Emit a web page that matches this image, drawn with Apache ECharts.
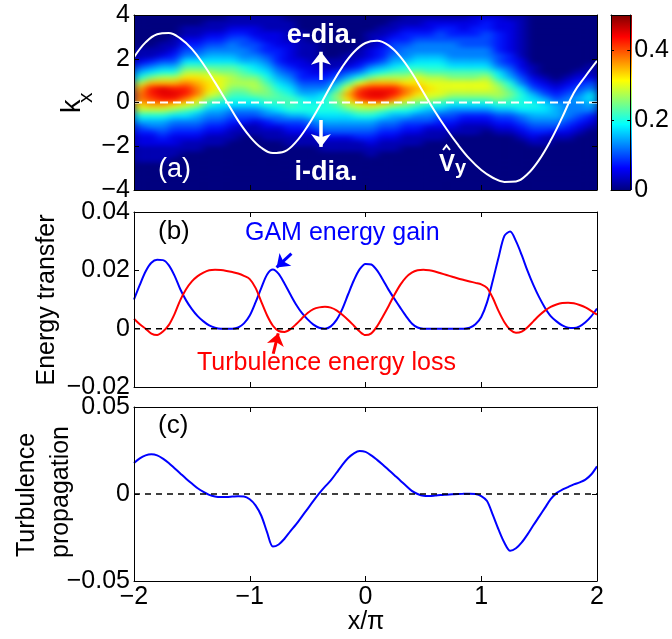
<!DOCTYPE html>
<html>
<head>
<meta charset="utf-8">
<script src="https://cdn.jsdelivr.net/npm/echarts@6/dist/echarts.min.js"></script>
<style>
  html, body { margin: 0; padding: 0; background: #fff; }
  #wrap { position: relative; width: 672px; height: 639px; }
  #specBox { position: absolute; left: 134px; top: 15px; width: 463px; height: 175px;
             overflow: hidden; background: #00007f; }
  #spec { width: 463px; height: 175px; filter: url(#soft); }
  #chart { position: absolute; left: 0; top: 0; width: 672px; height: 639px; }
</style>
</head>
<body>
<!-- smoothing for the coarse spectrum grid (contour-like shading) -->
<svg width="0" height="0" style="position:absolute">
  <filter id="soft" x="0" y="0" width="1" height="1" color-interpolation-filters="sRGB">
    <feGaussianBlur stdDeviation="5 2.5" edgeMode="duplicate"/>
  </filter>
</svg>
<div id="wrap">
  <div id="specBox"><div id="spec"></div></div>
  <div id="chart"></div>
</div>
<script>
// ---- data ---------------------------------------------------------------
// Coarse x/pi positions for the white velocity curve.
const xsCoarse = [-2.0,-1.9,-1.8,-1.7,-1.6,-1.5,-1.4,-1.3,-1.2,-1.1,-1.0,-0.9,-0.8,-0.7,-0.6,-0.5,-0.4,-0.3,-0.2,-0.1,
                  0.0,0.1,0.2,0.3,0.4,0.5,0.6,0.7,0.8,0.9,1.0,1.1,1.2,1.3,1.4,1.5,1.6,1.7,1.8,1.9,2.0];

// Panel (a): normalised GAM velocity profile (white curve), in k_x units.
const vyHat = [2.07,2.75,3.12,3.18,2.93,2.45,1.75,0.92,0.05,-0.83,-1.55,-2.07,-2.31,-2.24,-1.80,-1.08,-0.19,0.76,1.63,2.31,
               2.72,2.82,2.61,2.10,1.36,0.47,-0.41,-1.21,-1.94,-2.58,-3.09,-3.44,-3.63,-3.61,-3.27,-2.62,-1.73,-0.67,0.45,1.20,1.90];

// Fine x/pi positions for panels (b) and (c).
const xsFine = [-2.00,-1.95,-1.90,-1.85,-1.80,-1.75,-1.70,-1.65,-1.60,-1.55,-1.50,-1.45,-1.40,-1.35,-1.30,-1.25,-1.20,-1.15,-1.10,-1.05,
                -1.00,-0.95,-0.90,-0.85,-0.80,-0.75,-0.70,-0.65,-0.60,-0.55,-0.50,-0.45,-0.40,-0.35,-0.30,-0.25,-0.20,-0.15,-0.10,-0.05,
                0.00,0.05,0.10,0.15,0.20,0.25,0.30,0.35,0.40,0.45,0.50,0.55,0.60,0.65,0.70,0.75,0.80,0.85,0.90,0.95,
                1.00,1.05,1.10,1.15,1.20,1.25,1.30,1.35,1.40,1.45,1.50,1.55,1.60,1.65,1.70,1.75,1.80,1.85,1.90,1.95,2.00];

// Panel (b): energy transfer terms.
const gamGain = [
  0.0100,0.0150,0.0196,0.0226,0.0236,0.0235,0.0218,0.0182,0.0135,0.0097,0.0067,0.0043,0.0025,0.0011,0.0003,0.0000,0.0000,0.0000,0.0004,0.0018,
  0.0045,0.0090,0.0140,0.0186,0.0203,0.0188,0.0155,0.0118,0.0083,0.0054,0.0032,0.0014,0.0003,0.0000,0.0008,0.0030,0.0068,0.0118,0.0166,0.0204,
  0.0222,0.0220,0.0200,0.0168,0.0133,0.0102,0.0072,0.0043,0.0018,0.0004,0.0000,0.0000,0.0000,0.0000,0.0000,0.0000,0.0000,0.0000,0.0003,0.0015,
  0.0040,0.0090,0.0165,0.0245,0.0318,0.0333,0.0300,0.0252,0.0198,0.0150,0.0108,0.0072,0.0043,0.0025,0.0011,0.0003,0.0002,0.0008,0.0022,0.0042,0.0069];
const turbLoss = [
  0.0034,0.0015,0.0000,-0.0017,-0.0022,-0.0010,0.0012,0.0050,0.0098,0.0135,0.0162,0.0180,0.0192,0.0200,0.0202,0.0201,0.0198,0.0194,0.0189,0.0181,
  0.0170,0.0140,0.0092,0.0045,0.0010,-0.0008,-0.0011,-0.0002,0.0015,0.0035,0.0054,0.0067,0.0073,0.0075,0.0072,0.0063,0.0048,0.0030,0.0010,-0.0010,
  -0.0022,-0.0016,0.0008,0.0042,0.0078,0.0116,0.0150,0.0176,0.0192,0.0200,0.0202,0.0200,0.0196,0.0190,0.0184,0.0178,0.0172,0.0167,0.0162,0.0157,
  0.0152,0.0140,0.0105,0.0060,0.0022,-0.0004,-0.0014,-0.0010,0.0005,0.0025,0.0045,0.0062,0.0075,0.0083,0.0088,0.0089,0.0087,0.0081,0.0073,0.0061,0.0048];

// Panel (c): turbulence propagation.
const turbProp = [
  0.0178,0.0205,0.0222,0.0228,0.0222,0.0203,0.0178,0.0148,0.0118,0.0088,0.0060,0.0033,0.0012,-0.0005,-0.0014,-0.0017,-0.0017,-0.0015,-0.0013,-0.0014,
  -0.0030,-0.0065,-0.0125,-0.0220,-0.0302,-0.0290,-0.0257,-0.0215,-0.0175,-0.0130,-0.0085,-0.0040,0.0003,0.0042,0.0078,0.0122,0.0168,0.0207,0.0234,0.0247,
  0.0242,0.0222,0.0196,0.0168,0.0138,0.0108,0.0078,0.0047,0.0018,0.0000,-0.0010,-0.0011,-0.0009,-0.0006,-0.0004,-0.0002,0.0000,0.0001,0.0002,0.0000,
  -0.0012,-0.0040,-0.0120,-0.0205,-0.0280,-0.0326,-0.0312,-0.0278,-0.0232,-0.0180,-0.0130,-0.0080,-0.0030,0.0005,0.0025,0.0040,0.0055,0.0067,0.0083,0.0112,0.0159];

// Panel (a) spectrum: one string per x column (x/pi = -1.95 ... 1.95, step 0.1),
// each character one k_x row from k_x = 3.875 (top) down to -3.875 (step 0.25).
// Character code: '0'..'9','a'..'j' -> level 0..19, value = level * SPEC_STEP.
const SPEC_STEP = 0.025;
const specColumns = [
  "000000112468beffdb86432211100000",
  "00000011357aehhgeb86532211100000",
  "00000112468beiiheb86543211100000",
  "00001123468behihda75432211000000",
  "0011234579bdfhhfc975432110000000",
  "0011234579bdeffdb865432110000000",
  "0112345679bcddca8654321100000000",
  "0112345679acccb97654321100000000",
  "1123455679abba987543211000000000",
  "11234455689aba987543110000000000",
  "11223445678abba87542110000000000",
  "1112233456789aa98653211000000000",
  "11122233345678998754211000000000",
  "01111222234567899864321100000000",
  "00011111223345688864321100000000",
  "00000111122345678875421100000000",
  "00000000112345788876542110000000",
  "00000000113468aa9876542110000000",
  "0000000112469cedb976542110000000",
  "000000112358cghgca86543110000000",
  "00011122357aehihda86543211000000",
  "00112233468behihc975432110000000",
  "01123445679behhfb865432110000000",
  "11233455689bdffda864321100000000",
  "1123455678acdedb9754321100000000",
  "12234556789bcdcb8654211000000000",
  "12344556789bccca8643211000000000",
  "12334555679accb97543210000000000",
  "12234455679accb97532110000000000",
  "22334455679accb97532110000000000",
  "23344455679bccb97532100000000000",
  "222333344578abba8643210000000000",
  "12222223345689a98643210000000000",
  "11111111223457888754321000000000",
  "00000000011234678765432100000000",
  "00000000000123467765431100000000",
  "00000000000012346665421000000000",
  "00000000000123455554321000000000",
  "00000000001234565543210000000000",
  "00000000011245776532100000000000"
];

// Colour scale (jet) and colour bar limits.
const jet = ['#00007f','#0000ff','#007fff','#00ffff','#7fff7f','#ffff00','#ff7f00','#ff0000','#7f0000'];
const specMin = 0, specMax = 0.5;
const colorbarTicks = [0, 0.2, 0.4];

// ---- build --------------------------------------------------------------
const FONT = '"Liberation Sans", Arial, Helvetica, sans-serif';
const CODE = '0123456789abcdefghij';
const nRows = specColumns[0].length;

const heat = [];
specColumns.forEach(function (col, i) {
  for (let r = 0; r < nRows; r++) {
    const lvl = Math.max(0, CODE.indexOf(col.charAt(r)));
    heat.push([i, nRows - 1 - r, lvl * SPEC_STEP]);
  }
});
const colCats = specColumns.map(function (_, i) { return 'c' + i; });
const rowCats = [];
for (let r = 0; r < nRows; r++) rowCats.push('r' + r);

// Spectrum layer (k_x vs x/pi), drawn under the framed panel.
const spec = echarts.init(document.getElementById('spec'), null, { renderer: 'canvas' });
spec.setOption({
  animation: false,
  grid: { left: 0, right: 0, top: 0, bottom: 0 },
  xAxis: { type: 'category', data: colCats, show: false },
  yAxis: { type: 'category', data: rowCats, show: false },
  visualMap: { show: false, type: 'continuous', min: specMin, max: specMax, inRange: { color: jet } },
  series: [{ type: 'heatmap', data: heat, progressive: 0, emphasis: { disabled: true } }]
});

function pairs(xv, ys) { return xv.map(function (x, i) { return [x, ys[i]]; }); }
function minus(s) { return String(s).replace('-', '\u2212'); }

const BLACK = { color: '#000', width: 1 };
function frameX(grid, pos, showLabels) {
  return {
    type: 'value', gridIndex: grid, position: pos, min: -2, max: 2, interval: 1, z: 10,
    axisLine: { show: true, onZero: false, lineStyle: BLACK },
    axisTick: { show: true, inside: true, length: 5, lineStyle: BLACK },
    axisLabel: { show: showLabels, margin: 4, fontSize: 25, fontFamily: FONT, color: '#000',
                 formatter: function (v) { return minus(Math.round(v)); } },
    splitLine: { show: false }
  };
}
function frameY(grid, pos, min, max, interval, fmt) {
  return {
    type: 'value', gridIndex: grid, position: pos, min: min, max: max, interval: interval, z: 10,
    axisLine: { show: true, onZero: false, lineStyle: BLACK },
    axisTick: { show: true, inside: true, length: 5, lineStyle: BLACK },
    axisLabel: { show: !!fmt, margin: 4, fontSize: 25, fontFamily: FONT, color: '#000', formatter: fmt },
    splitLine: { show: false }
  };
}
const fmtInt = function (v) { return minus(Math.round(v)); };
const fmt2 = function (v) { return Math.abs(v) < 1e-9 ? '0' : minus(v.toFixed(2)); };
const fmtBar = function (v) {
  const hit = colorbarTicks.some(function (t) { return Math.abs(t - v) < 1e-9; });
  return hit ? (Math.abs(v) < 1e-9 ? '0' : String(+v.toFixed(1))) : '';
};

const L = 134, W = 463;
const option = {
  animation: false,
  backgroundColor: 'transparent',
  grid: [
    { left: L, top: 15, width: W, height: 175 },
    { left: L, top: 212, width: W, height: 175 },
    { left: L, top: 407, width: W, height: 174 },
    { left: 611, top: 15, width: 21, height: 175 }
  ],
  xAxis: [
    frameX(0, 'bottom', false),
    frameX(0, 'top', false),
    frameX(1, 'bottom', false),
    frameX(1, 'top', false),
    frameX(2, 'bottom', true),
    frameX(2, 'top', false),
    { type: 'value', gridIndex: 3, position: 'bottom', min: 0, max: 1, z: 10,
      axisLine: { show: true, onZero: false, lineStyle: BLACK }, axisTick: { show: false },
      axisLabel: { show: false }, splitLine: { show: false } },
    { type: 'value', gridIndex: 3, position: 'top', min: 0, max: 1, z: 10,
      axisLine: { show: true, onZero: false, lineStyle: BLACK }, axisTick: { show: false },
      axisLabel: { show: false }, splitLine: { show: false } }
  ],
  yAxis: [
    frameY(0, 'left', -4, 4, 2, fmtInt),
    frameY(0, 'right', -4, 4, 2, null),
    frameY(1, 'left', -0.02, 0.04, 0.02, fmt2),
    frameY(1, 'right', -0.02, 0.04, 0.02, null),
    frameY(2, 'left', -0.05, 0.05, 0.05, fmt2),
    frameY(2, 'right', -0.05, 0.05, 0.05, null),
    Object.assign(frameY(3, 'left', specMin, specMax, 0.1, null),
      { axisTick: { show: true, inside: true, length: 3, lineStyle: BLACK, customValues: colorbarTicks } }),
    Object.assign(frameY(3, 'right', specMin, specMax, 0.1, fmtBar),
      { axisTick: { show: true, inside: true, length: 3, lineStyle: BLACK, customValues: colorbarTicks } })
  ],
  series: [
    { type: 'line', xAxisIndex: 0, yAxisIndex: 0, data: pairs(xsCoarse, vyHat), smooth: 0.4,
      showSymbol: false, symbol: 'none', lineStyle: { color: '#fff', width: 2 }, z: 3,
      markLine: { silent: true, animation: false, symbol: ['none', 'arrow'], symbolSize: [15, 13],
        label: { show: false }, lineStyle: { color: '#fff', width: 3.5, type: 'solid' },
        data: [
          [{ coord: [-0.385, 1.03] }, { coord: [-0.385, 2.32] }],
          [{ coord: [-0.385, -0.80] }, { coord: [-0.385, -2.03] }]
        ] } },
    { type: 'line', xAxisIndex: 0, yAxisIndex: 0, data: [[-2, 0], [2, 0]], symbol: 'none',
      lineStyle: { color: '#fff', width: 2, type: [8, 5] }, z: 4 },

    { type: 'line', xAxisIndex: 2, yAxisIndex: 2, data: pairs(xsFine, gamGain), smooth: 0.3,
      showSymbol: false, symbol: 'none', lineStyle: { color: '#0000ff', width: 2 }, z: 3,
      markLine: { silent: true, animation: false, symbol: ['none', 'arrow'], symbolSize: [13, 12],
        label: { show: false }, lineStyle: { color: '#0000ff', width: 3, type: 'solid' },
        data: [[{ coord: [-0.64, 0.0257] }, { coord: [-0.768, 0.0210] }]] } },
    { type: 'line', xAxisIndex: 2, yAxisIndex: 2, data: pairs(xsFine, turbLoss), smooth: 0.3,
      showSymbol: false, symbol: 'none', lineStyle: { color: '#ff0000', width: 2 }, z: 3,
      markLine: { silent: true, animation: false, symbol: ['none', 'arrow'], symbolSize: [13, 12],
        label: { show: false }, lineStyle: { color: '#ff0000', width: 3, type: 'solid' },
        data: [[{ coord: [-0.797, -0.0086] }, { coord: [-0.754, -0.0016] }]] } },
    { type: 'line', xAxisIndex: 2, yAxisIndex: 2, data: [[-2, 0], [2, 0]], symbol: 'none',
      lineStyle: { color: '#000', width: 1.5, type: [6, 5] }, z: 4 },

    { type: 'line', xAxisIndex: 4, yAxisIndex: 4, data: pairs(xsFine, turbProp), smooth: 0.3,
      showSymbol: false, symbol: 'none', lineStyle: { color: '#0000ff', width: 2 }, z: 3 },
    { type: 'line', xAxisIndex: 4, yAxisIndex: 4, data: [[-2, 0], [2, 0]], symbol: 'none',
      lineStyle: { color: '#000', width: 1.5, type: [6, 5] }, z: 4 }
  ]
};

// Text annotations and the colour bar fill.
function label(x, y, text, o) {
  o = o || {};
  return {
    type: 'text', x: x, y: y, rotation: o.rot || 0, z: 100,
    style: {
      text: text, x: 0, y: 0,
      fill: o.color || '#000',
      font: (o.weight || 'normal') + ' ' + (o.size || 25) + 'px ' + FONT,
      textAlign: o.align || 'left', align: o.align || 'left',
      textVerticalAlign: 'middle', verticalAlign: 'middle'
    }
  };
}
const barStops = jet.slice().reverse().map(function (c, i) {
  return { offset: i / (jet.length - 1), color: c };
});
option.graphic = [
  { type: 'rect', z: 0, shape: { x: 611, y: 15, width: 21, height: 175 },
    style: { fill: new echarts.graphic.LinearGradient(0, 0, 0, 1, barStops) } },
  label(72.5, 113, 'k', { rot: Math.PI / 2, size: 27 }),
  label(86, 103, 'x', { rot: Math.PI / 2, size: 21 }),
  label(47.5, 300, 'Energy transfer', { rot: Math.PI / 2, align: 'center' }),
  label(27, 495, 'Turbulence', { rot: Math.PI / 2, align: 'center' }),
  label(61, 492, 'propagation', { rot: Math.PI / 2, align: 'center' }),
  label(366, 622, 'x/\u03c0', { align: 'center' }),
  label(158, 170, '(a)', { color: '#fff', size: 27 }),
  label(158, 231.5, '(b)', { size: 26 }),
  label(158, 426, '(c)', { size: 26 }),
  label(322, 36, 'e-dia.', { color: '#fff', size: 27, weight: 'bold', align: 'center' }),
  label(326, 173, 'i-dia.', { color: '#fff', size: 27, weight: 'bold', align: 'center' }),
  label(439, 164, 'V', { color: '#fff', size: 24, weight: 'bold' }),
  { type: 'polyline', z: 100, shape: { points: [[443, 150], [446.5, 145.5], [450, 150]] },
    style: { stroke: '#fff', lineWidth: 2, fill: null } },
  label(455, 168, 'y', { color: '#fff', size: 20, weight: 'bold' }),
  label(245, 233.5, 'GAM energy gain', { color: '#0000ff' }),
  label(197, 363.5, 'Turbulence energy loss', { color: '#ff0000' })
];

const chart = echarts.init(document.getElementById('chart'), null, { renderer: 'canvas' });
chart.setOption(option);
</script>
</body>
</html>
